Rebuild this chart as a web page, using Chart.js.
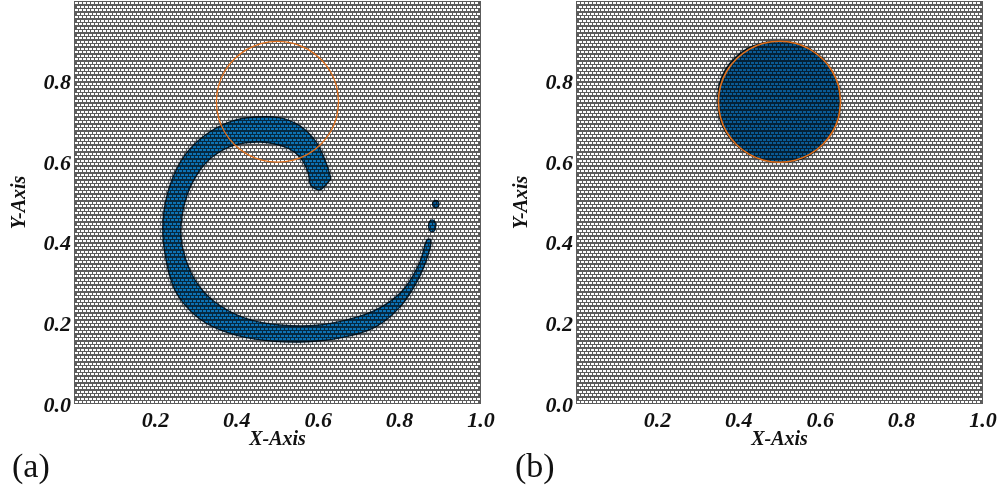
<!DOCTYPE html>
<html><head><meta charset="utf-8">
<style>html,body{margin:0;padding:0;background:#fff;overflow:hidden}canvas{position:absolute;top:0}</style>
<script src="https://cdn.jsdelivr.net/npm/chart.js@4"></script></head>
<body>
<canvas id="a" width="500" height="489" style="left:0"></canvas>
<canvas id="b" width="498" height="489" style="left:502px"></canvas>
<script>
const xTicks=[0.2,0.4,0.6,0.8,1.0];
const yTicks=[0.0,0.2,0.4,0.6,0.8];
const xTitle='X-Axis', yTitle='Y-Axis';
const circleX=[.650,.645,.630,.606,.575,.539,.500,.461,.425,.394,.370,.355,.350,.355,.370,.394,.425,.461,.500,.539,.575,.606,.630,.645,.650];
const circleY=[.750,.789,.825,.856,.880,.895,.900,.895,.880,.856,.825,.789,.750,.711,.675,.644,.620,.605,.600,.605,.620,.644,.675,.711,.750];
const crescentX=[.631,.617,.595,.555,.506,.445,.383,.322,.273,.236,.219,.224,.248,.297,.359,.445,.555,.654,.740,.801,.845,.870,.877,.867,.850,.813,.764,.703,.604,.506,.420,.346,.297,.268,.263,.278,.310,.346,.396,.457,.518,.555,.575,.582,.604,.629,.631];
const crescentY=[.561,.605,.650,.690,.710,.712,.700,.667,.618,.543,.457,.370,.283,.221,.184,.161,.154,.164,.191,.241,.308,.370,.407,.407,.352,.288,.246,.218,.196,.196,.213,.253,.308,.382,.444,.519,.581,.618,.643,.650,.638,.613,.576,.543,.531,.556,.561];
const dropAX=[.889,.886,.880,.874,.871,.874,.880,.886,.889];
const dropAY=[.442,.453,.457,.453,.442,.431,.427,.431,.442];
const dropBX=[.897,.895,.889,.883,.881,.883,.889,.895,.897];
const dropBY=[.496,.502,.505,.502,.496,.490,.487,.490,.496];
const blobX=[.650,.645,.629,.606,.574,.537,.498,.459,.422,.391,.367,.352,.349,.353,.369,.394,.426,.462,.500,.540,.576,.606,.630,.645,.650];
const blobY=[.750,.789,.826,.857,.881,.896,.900,.896,.882,.859,.829,.791,.750,.710,.673,.643,.619,.605,.600,.604,.619,.644,.675,.711,.750];

const pts=(xs,ys)=>xs.map((x,i)=>({x,y:ys[i]}));
const shape=(xs,ys,col,edge,w)=>({type:'line',data:pts(xs,ys),order:3,fill:'shape',backgroundColor:col,borderColor:edge,borderWidth:w,pointRadius:0,tension:.3});
const halo=(xs,ys)=>({type:'line',data:pts(xs,ys),order:4,fill:false,borderColor:'rgba(15,35,55,0.14)',borderWidth:7,pointRadius:0,tension:.3});

const meshPlugin={id:'mesh',beforeDatasetDraw(chart,args){
  if(args.index!==chart.data.datasets.length-1)return;
  const {ctx,chartArea:a}=chart;
  ctx.save();ctx.beginPath();ctx.rect(a.left,a.top,a.width,a.height);
  let row=0;
  for(let cy=Math.round(a.bottom)-3;cy>a.top;row++,cy-=(row%2?3:4)){
    for(let cx=a.left+1+(row%2?2:0);cx<a.right-2;cx+=4){
      ctx.rect(cx,cy,3,2);
    }
  }
  ctx.globalCompositeOperation='multiply';
  ctx.fillStyle='rgb(92,92,92)';ctx.fill('evenodd');ctx.restore();
}};
const tagPlugin={id:'tag',afterDraw(chart,_,o){
  const c=chart.ctx;c.save();c.font='34px "Liberation Serif"';c.fillStyle='#111';c.textAlign='left';c.textBaseline='alphabetic';
  c.fillText(o.text,o.x,477);c.restore();
}};
const tickFont={family:'"Liberation Serif"',size:22,style:'italic',weight:'bold'};
const titleFont={family:'"Liberation Serif"',size:20,style:'italic',weight:'bold'};
function make(id,datasets,tag,tagX,right){
  new Chart(document.getElementById(id),{type:'scatter',
   data:{datasets},
   plugins:[meshPlugin,tagPlugin],
   options:{responsive:false,animation:false,
    layout:{padding:{left:8,right,top:1,bottom:37}},
    plugins:{legend:{display:false},tooltip:{enabled:false},tag:{text:tag,x:tagX}},
    scales:{
     x:{type:'linear',min:0,max:1,grid:{display:false},border:{display:false},
        afterFit(s){s.height=48;s.paddingLeft=0;s.paddingRight=0},afterBuildTicks(s){s.ticks=xTicks.map(value=>({value}))},
        ticks:{font:tickFont,color:'#111',padding:-4,maxRotation:0,autoSkip:false,callback:v=>v.toFixed(1)},
        title:{display:true,text:xTitle,font:titleFont,color:'#111',padding:{top:0,bottom:0}}},
     y:{type:'linear',min:0,max:1,grid:{display:false},border:{display:false},
        afterFit(s){s.width=66;s.paddingTop=0;s.paddingBottom=0},afterBuildTicks(s){s.ticks=yTicks.map(value=>({value}))},
        ticks:{font:tickFont,color:'#111',padding:-5,labelOffset:2,autoSkip:false,callback:v=>v.toFixed(1)},
        title:{display:true,text:yTitle,font:titleFont,color:'#111',padding:{top:0,bottom:0}}}
    }}});
}
const ring=(w)=>({type:'line',data:pts(circleX,circleY),order:1,fill:false,borderColor:'#e0701c',borderWidth:w,pointRadius:0,tension:.35});
make('a',[halo(crescentX,crescentY),shape(crescentX,crescentY,'#0d72b4','#06263c',1.4),
  shape(dropAX,dropAY,'#0d72b4','#06263c',1.4),shape(dropBX,dropBY,'#0a5a94','#06263c',1.4),ring(1.3)],'(a)',12,19);
make('b',[halo(blobX,blobY),shape(blobX,blobY,'#0a5a94','#04202f',1.6),ring(1.6)],'(b)',13,17);
</script></body></html>
